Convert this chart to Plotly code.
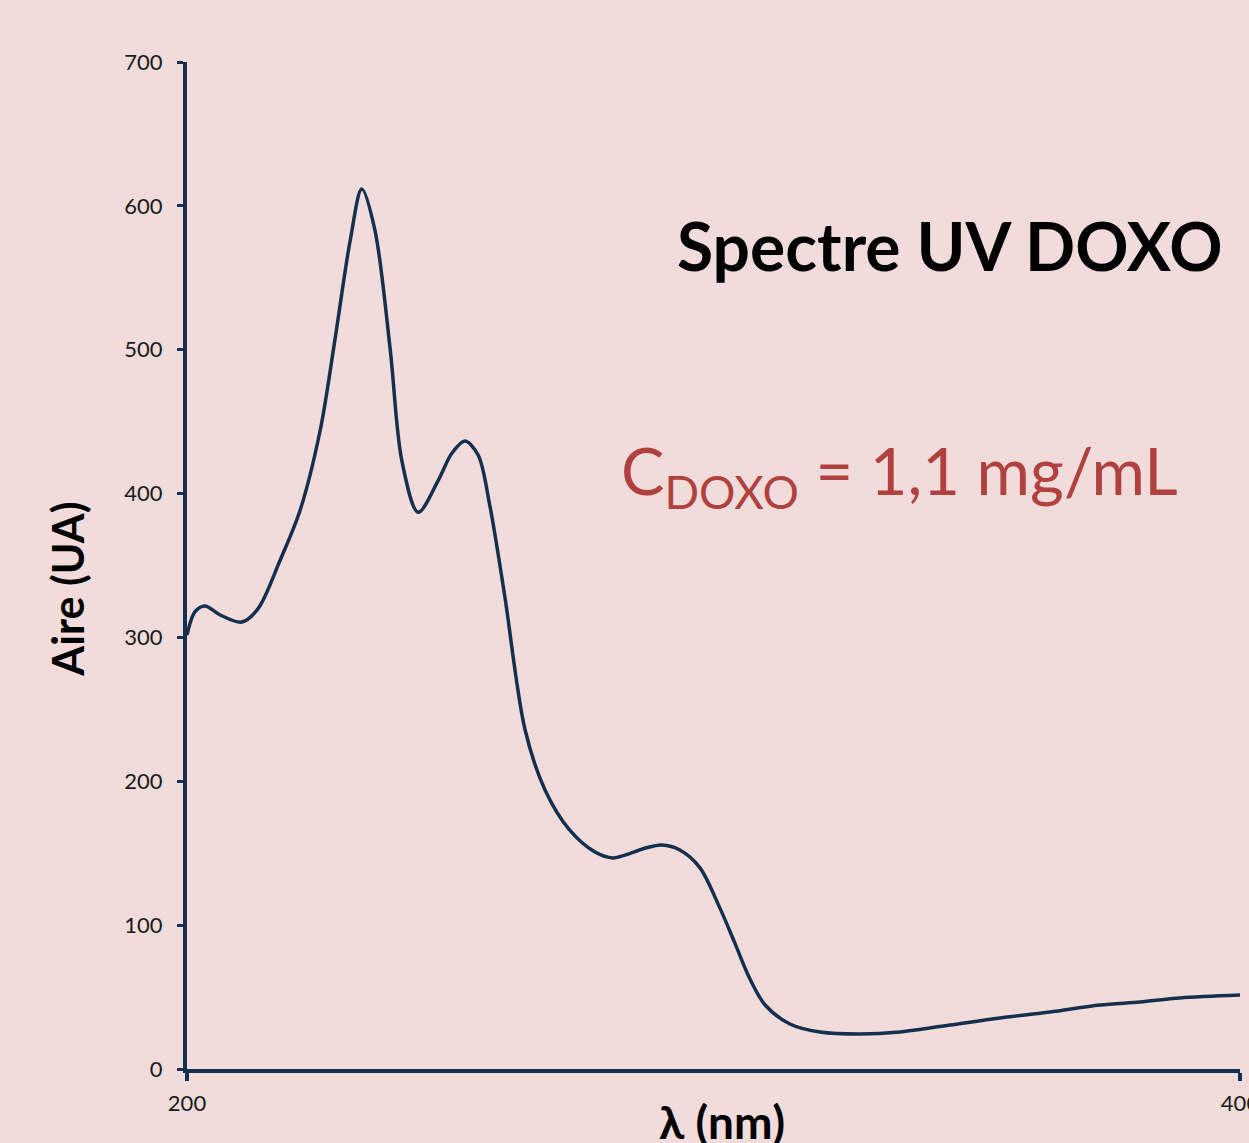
import plotly.graph_objects as go

wavelength_nm = [200, 201.5, 203.4, 206.3, 210.4, 213.5, 217.7, 221.5, 225.3, 228.1, 231, 233.2,
                 235.7, 238.6, 240.8, 243.9, 247.7, 250.3, 252.8, 255.3, 257.5, 260.3,
                 264.2, 268, 272.7, 277.5, 280.9, 283.3, 287.1, 290.2, 293.6, 297.4, 301.2,
                 304, 307, 309.8, 314.5, 320.2, 327.8, 335.4, 344.9, 354.4, 363.9, 373.4,
                 381, 388.6, 400]
aire_ua = [301.7, 317.7, 321.8, 315.6, 310.7, 320, 353.8, 388.6, 444, 507, 576, 611.7,
           583, 500, 423, 387, 409, 428, 436.5, 426.8, 392, 330,
           236, 194, 166, 150.8, 146.7, 148.8, 153.6, 155.7, 152.2, 140, 112,
           88, 62, 44.5, 31.3, 25.7, 24.3, 25.7, 30.6, 35.5, 39.6, 44.5,
           46.6, 49.4, 51.4]

x_ticks = [200, 400]
y_ticks = [0, 100, 200, 300, 400, 500, 600, 700]

BG = "#F2DCDB"
NAVY = "#15304F"
RED = "#B0413E"
FONT = "Lato"

fig = go.Figure()
fig.add_trace(go.Scatter(x=wavelength_nm, y=aire_ua, mode="lines",
                         line=dict(color=NAVY, width=3.5, shape="spline", smoothing=0.9),
                         hoverinfo="skip", showlegend=False))

fig.update_layout(
    width=1249, height=1143,
    paper_bgcolor=BG, plot_bgcolor=BG,
    margin=dict(l=187, r=9, t=62, b=74, autoexpand=False),
    font=dict(family=FONT, size=22, color="#1a1a1a"),
    showlegend=False,
    xaxis=dict(range=[200, 400], tickvals=x_ticks, ticktext=[str(v) for v in x_ticks],
               showgrid=False, zeroline=False, showline=True, linecolor=NAVY, linewidth=4,
               ticks="outside", ticklen=8, tickwidth=4, tickcolor=NAVY,
               ticklabeloverflow="allow", automargin=False, ticklabelstandoff=4,
               tickfont=dict(size=22, family=FONT, color="#1a1a1a")),
    yaxis=dict(range=[0, 700], tickvals=y_ticks, automargin=False, ticklabelstandoff=10,
               showgrid=False, zeroline=False, showline=True, linecolor=NAVY, linewidth=4,
               ticks="outside", ticklen=6, tickwidth=3, tickcolor=NAVY,
               tickfont=dict(size=22, family=FONT, color="#1a1a1a")),
)

fig.add_annotation(text="<b>Spectre UV DOXO</b>", xref="paper", yref="paper",
                   x=0.986, y=0.818, xanchor="right", yanchor="middle", showarrow=False,
                   font=dict(family=FONT, size=66, color="#000000"))
fig.add_annotation(text="C<sub>DOXO</sub> = 1,1 mg/mL", xref="paper", yref="paper",
                   x=0.41, y=0.59, xanchor="left", yanchor="middle", showarrow=False,
                   font=dict(family=FONT, size=65, color=RED))
fig.add_annotation(text="<b>Aire (UA)</b>", xref="paper", yref="paper",
                   x=-0.113, y=0.476, xanchor="center", yanchor="middle", showarrow=False,
                   textangle=-90, font=dict(family=FONT, size=43, color="#000000"))
fig.add_annotation(text="<b>λ (nm)</b>", xref="paper", yref="paper",
                   x=0.508, y=-0.0526, xanchor="center", yanchor="middle", showarrow=False,
                   font=dict(family=FONT, size=46, color="#000000"))

fig.write_html("out.html", config={"displayModeBar": False},
               post_script="document.body.style.margin='0';document.body.style.overflow='hidden';")
